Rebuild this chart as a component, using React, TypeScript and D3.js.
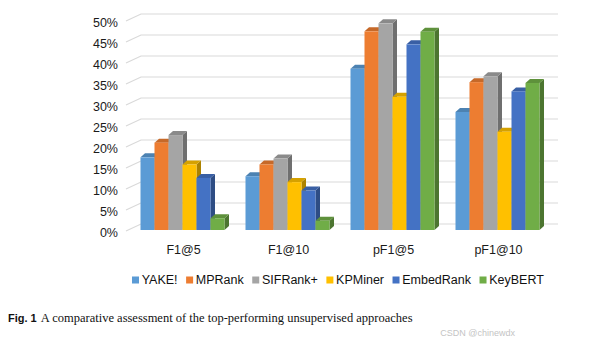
import React, { useEffect, useRef } from 'react';
import * as d3 from 'd3';

const categories = ['F1@5', 'F1@10', 'pF1@5', 'pF1@10'];
const seriesNames = ['YAKE!', 'MPRank', 'SIFRank+', 'KPMiner', 'EmbedRank', 'KeyBERT'];
const seriesColors = ['#5b9bd5', '#ed7d31', '#a5a5a5', '#ffc000', '#4472c4', '#70ad47'];

const yake = [0.173, 0.128, 0.384, 0.281];
const mprank = [0.208, 0.156, 0.473, 0.352];
const sifrank = [0.226, 0.170, 0.492, 0.366];
const kpminer = [0.156, 0.114, 0.317, 0.234];
const embedrank = [0.124, 0.094, 0.442, 0.330];
const keybert = [0.028, 0.022, 0.472, 0.350];

const yTicks = [0, 0.05, 0.1, 0.15, 0.2, 0.25, 0.3, 0.35, 0.4, 0.45, 0.5];

const W = 615;
const H = 353;
const FONT = 'Liberation Sans, Arial, sans-serif';

const App = () => {
  const chartRef = useRef<SVGSVGElement>(null);

  useEffect(() => {
    const svg = d3.select(chartRef.current);
    svg.selectAll('*').remove();

    const values = [yake, mprank, sifrank, kpminer, embedrank, keybert];

    // 3D depth offset of the back wall and of the bars
    const wallDx = 15;
    const wallDy = -7;
    const barDx = 4.5;
    const barDy = -4;

    // back wall scale
    const yBack = d3.scaleLinear().domain([0, 0.5]).range([224, 14]);
    // bar front-face scale
    const yBar = d3.scaleLinear().domain([0, 0.5]).range([230, 20]);

    const x0 = d3
      .scaleBand()
      .domain(categories)
      .range([130, 550])
      .paddingInner(0.2)
      .paddingOuter(0.1);

    const x1 = d3
      .scaleBand()
      .domain(seriesNames)
      .range([0, x0.bandwidth()]);

    const frontX = 126;
    const wallRight = 558;

    // gridlines: side wall diagonal + back wall horizontal
    const grid = svg.append('g');
    yTicks.forEach((t) => {
      const yb = yBack(t);
      grid
        .append('polyline')
        .attr('points', `${frontX},${yb - wallDy} ${frontX + wallDx},${yb} ${wallRight},${yb}`)
        .attr('fill', 'none')
        .attr('stroke', '#d9d9d9')
        .attr('stroke-width', 1.2);
    });

    // y tick labels
    svg
      .append('g')
      .selectAll('text')
      .data(yTicks)
      .enter()
      .append('text')
      .attr('x', 118)
      .attr('y', (d) => yBack(d) - wallDy + 1.5)
      .attr('dy', '0.35em')
      .attr('text-anchor', 'end')
      .attr('font-family', FONT)
      .attr('font-size', 12.5)
      .attr('fill', '#1a1a1a')
      .text((d) => d3.format('.0%')(d));

    // bars
    const bars = svg.append('g');
    categories.forEach((cat, ci) => {
      seriesNames.forEach((name, si) => {
        const v = values[si][ci];
        const color = d3.color(seriesColors[si])!;
        const x = (x0(cat) ?? 0) + (x1(name) ?? 0);
        const w = x1.bandwidth();
        const yt = yBar(v);
        const yb = yBar(0);

        // side face
        bars
          .append('polygon')
          .attr(
            'points',
            `${x + w},${yt} ${x + w + barDx},${yt + barDy} ${x + w + barDx},${yb + barDy} ${x + w},${yb}`
          )
          .attr('fill', color.darker(1.1).toString());
        // top face
        bars
          .append('polygon')
          .attr(
            'points',
            `${x},${yt} ${x + barDx},${yt + barDy} ${x + w + barDx},${yt + barDy} ${x + w},${yt}`
          )
          .attr('fill', color.darker(0.5).toString());
        // front face
        bars
          .append('rect')
          .attr('x', x)
          .attr('y', yt)
          .attr('width', w)
          .attr('height', yb - yt)
          .attr('fill', color.toString());
      });
    });

    // category labels
    svg
      .append('g')
      .selectAll('text')
      .data(categories)
      .enter()
      .append('text')
      .attr('x', (d) => (x0(d) ?? 0) + x0.bandwidth() / 2 + 1)
      .attr('y', 253.5)
      .attr('text-anchor', 'middle')
      .attr('font-family', FONT)
      .attr('font-size', 12.5)
      .attr('fill', '#1a1a1a')
      .text((d) => d);

    // legend, laid out left to right by measured text width
    const legend = svg.append('g');
    let lx = 132;
    const ly = 280;
    seriesNames.forEach((name, i) => {
      legend
        .append('rect')
        .attr('x', lx)
        .attr('y', ly - 3.5)
        .attr('width', 7)
        .attr('height', 7)
        .attr('fill', seriesColors[i]);
      const t = legend
        .append('text')
        .attr('x', lx + 9.7)
        .attr('y', ly)
        .attr('dy', '0.35em')
        .attr('font-family', FONT)
        .attr('font-size', 12.5)
        .attr('fill', '#111')
        .text(name);
      const tw = (t.node() as SVGTextElement).getComputedTextLength();
      lx = lx + 9.7 + tw + 8.5;
    });

    // caption
    const cap = svg
      .append('text')
      .attr('x', 8)
      .attr('y', 322)
      .attr('font-size', 12.5)
      .attr('fill', '#111');
    cap
      .append('tspan')
      .attr('font-family', FONT)
      .attr('font-weight', 'bold')
      .attr('font-size', 11)
      .text('Fig. 1');
    cap
      .append('tspan')
      .attr('font-family', 'Liberation Serif, Times New Roman, serif')
      .attr('dx', 4)
      .text('A comparative assessment of the top-performing unsupervised approaches');

    // watermark
    svg
      .append('text')
      .attr('x', 515)
      .attr('y', 336)
      .attr('text-anchor', 'end')
      .attr('font-family', FONT)
      .attr('font-size', 9)
      .attr('fill', '#c4c4c4')
      .text('CSDN @chinewdx');
  }, []);

  return (
    <svg
      ref={chartRef}
      width={W}
      height={H}
      style={{ position: 'absolute', left: 0, top: 0, background: 'white' }}
    />
  );
};

export default App;
